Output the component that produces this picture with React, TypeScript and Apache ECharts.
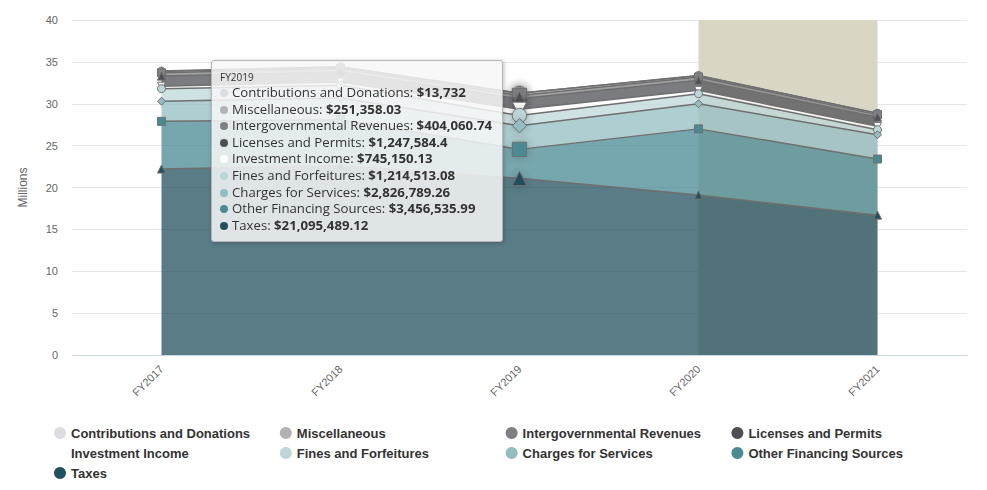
import React, { useEffect, useRef } from "react";
import * as echarts from "echarts";

const categories = ["FY2017", "FY2018", "FY2019", "FY2020", "FY2021"];
const yTicks = { min: 0, max: 40, interval: 5 };
const yAxisName = "Millions";
const bandFrom = "FY2020";
const bandTo = "FY2021";
const tipIndex = 2;

// values in millions of dollars
const taxes = [22.2, 22.6, 21.09548912, 19.1, 16.7];
const otherFinancing = [5.7, 5.5, 3.45653599, 7.9, 6.7];
const charges = [2.4, 2.6, 2.82678926, 3.0, 2.9];
const fines = [1.5, 1.5, 1.21451308, 1.2, 0.6];
const investment = [0.3, 0.4, 0.74515013, 0.4, 0.4];
const licenses = [1.2, 1.2, 1.2475844, 1.2, 1.1];
const intergov = [0.4, 0.4, 0.40406074, 0.4, 0.3];
const misc = [0.15, 0.2, 0.25135803, 0.15, 0.15];
const contributions = [0.05, 0.02, 0.013732, 0.02, 0.02];

const triDown = "path://M0,0 L10,0 L5,10 Z";

// stacking order: bottom first
const seriesDefs = [
  { name: "Taxes", data: taxes, color: "#22505e", symbol: "triangle" },
  { name: "Other Financing Sources", data: otherFinancing, color: "#4a8a93", symbol: "rect" },
  { name: "Charges for Services", data: charges, color: "#93bdc1", symbol: "diamond" },
  { name: "Fines and Forfeitures", data: fines, color: "#bdd7d9", symbol: "circle" },
  { name: "Investment Income", data: investment, color: "#ffffff", symbol: triDown },
  { name: "Licenses and Permits", data: licenses, color: "#4f5055", symbol: "triangle" },
  { name: "Intergovernmental Revenues", data: intergov, color: "#808084", symbol: "rect" },
  { name: "Miscellaneous", data: misc, color: "#b3b3b6", symbol: "diamond" },
  { name: "Contributions and Donations", data: contributions, color: "#dcdde1", symbol: "circle" },
];

const legendOrder = [
  "Contributions and Donations",
  "Miscellaneous",
  "Intergovernmental Revenues",
  "Licenses and Permits",
  "Investment Income",
  "Fines and Forfeitures",
  "Charges for Services",
  "Other Financing Sources",
  "Taxes",
];

const fmt = (v: number) =>
  (Math.round(v * 1e8) / 100).toLocaleString("en-US", { maximumFractionDigits: 2 });

export default function App() {
  const ref = useRef<HTMLDivElement>(null);
  useEffect(() => {
    if (!ref.current) return;
    const chart = echarts.init(ref.current, null, { renderer: "svg" });
    const font = "'Liberation Sans', Arial, sans-serif";
    const n = seriesDefs.length;
    const series: any[] = seriesDefs.map((s, k) => ({
      name: s.name,
      type: "line",
      stack: "total",
      data: s.data.map((v, i) =>
        i === tipIndex
          ? {
              value: v,
              symbolSize: 13,
              itemStyle: { shadowBlur: 8, shadowColor: "rgba(60,60,60,0.35)" },
            }
          : v
      ),
      symbol: s.symbol,
      symbolSize: 8,
      showAllSymbol: true,
      color: s.color,
      itemStyle: { color: s.color, borderColor: "#707070", borderWidth: 1 },
      lineStyle: { color: "#6f6f6f", width: 1.5 },
      areaStyle: { color: s.color, opacity: 0.75 },
      emphasis: { disabled: true },
      z: 3 + (n - k) * 0.01,
    }));
    series.push({
      name: "band",
      type: "line",
      data: [],
      silent: true,
      z: 1,
      markArea: {
        silent: true,
        itemStyle: { color: "rgb(217,214,198)" },
        data: [[{ xAxis: bandFrom }, { xAxis: bandTo }]],
      },
    });
    chart.setOption({
      animation: false,
      textStyle: { fontFamily: font },
      grid: { left: 72, right: 20, top: 20, bottom: 135 },
      xAxis: {
        type: "category",
        data: categories,
        boundaryGap: true,
        axisLine: { lineStyle: { color: "#ccd6eb" } },
        axisTick: { show: false },
        axisLabel: { rotate: 45, color: "#666666", fontSize: 11, margin: 12 },
      },
      yAxis: {
        type: "value",
        min: yTicks.min,
        max: yTicks.max,
        interval: yTicks.interval,
        name: yAxisName,
        nameLocation: "middle",
        nameGap: 43,
        nameTextStyle: { color: "#666666", fontSize: 12 },
        axisLabel: { color: "#666666", fontSize: 11, margin: 14 },
        splitLine: { lineStyle: { color: "#e6e6e6" } },
        axisLine: { show: false },
        axisTick: { show: false },
      },
      legend: {
        data: legendOrder.map((nm) => ({ name: nm, icon: "circle" })),
        left: 49,
        top: 418,
        width: 930,
        itemGap: 0,
        itemWidth: 12,
        itemHeight: 12,
        itemStyle: { borderWidth: 0 },
        textStyle: {
          color: "#333333",
          fontSize: 13,
          fontWeight: "bold",
          width: 208.8,
          lineHeight: 20,
        },
      },
      tooltip: {
        trigger: "axis",
        triggerOn: "none",
        alwaysShowContent: true,
        showDelay: 0,
        transitionDuration: 0,
        axisPointer: { type: "none" },
        position: [211, 60],
        backgroundColor: "rgba(247,247,247,0.85)",
        borderColor: "#b5b5b5",
        borderWidth: 1,
        borderRadius: 3,
        padding: [9, 10, 8, 8],
        extraCssText: "box-shadow: 1px 1px 4px rgba(0,0,0,0.25);",
        formatter: (params: any) => {
          const idx = Array.isArray(params) ? params[0].dataIndex : params.dataIndex;
          let html = `<div style="font-size:10px;color:#333;line-height:14px">${categories[idx]}</div>`;
          legendOrder.forEach((nm) => {
            const s = seriesDefs.find((d) => d.name === nm)!;
            html += `<div style="font-size:13.2px;line-height:16.6px;height:16.6px;color:#333;white-space:nowrap"><span style="display:inline-block;width:8px;height:8px;border-radius:4px;background:${s.color};margin-right:4px;vertical-align:0px"></span>${nm}: <b>$${fmt(s.data[idx])}</b></div>`;
          });
          return html;
        },
        textStyle: { fontFamily: "'Open Sans', sans-serif" },
      },
      series,
    });
    chart.dispatchAction({ type: "showTip", seriesIndex: 0, dataIndex: tipIndex });
    return () => chart.dispose();
  }, []);
  return (
    <div
      ref={ref}
      style={{ position: "absolute", left: 0, top: 0, width: 987, height: 490 }}
    />
  );
}
